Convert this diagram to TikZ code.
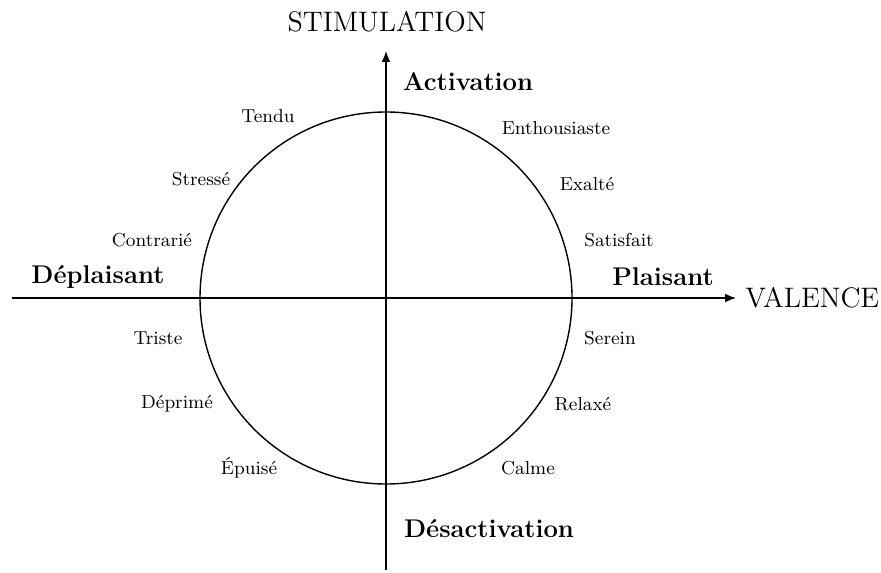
\documentclass[tikz,border=0pt]{standalone}
\usetikzlibrary{arrows.meta}
\begin{document}
\begin{tikzpicture}[x=0.5pt,y=-0.5pt,
  emo/.style={font=\fontsize{9.4}{11}\selectfont, inner sep=0pt},
  pole/.style={font=\fontsize{12.8}{15}\selectfont\bfseries, inner sep=0pt},
  axname/.style={font=\fontsize{14.1}{16}\selectfont, inner sep=0pt},
  axis/.style={line width=0.7pt, -{Latex[length=5.5pt,width=4.4pt]}}]
\useasboundingbox (0,0) rectangle (881,572);
\coordinate (O) at (386,298);
\coordinate (L) at (12,298);
\coordinate (R) at (736,298);
\coordinate (B) at (386,570);
\coordinate (T) at (386,51);
\draw[line width=0.7pt] (O) circle [radius=93pt];
\draw[axis] (L) -- (R);
\draw[axis] (B) -- (T);
\node[axname] (stim) at (387,22) {STIMULATION};
\node[axname, anchor=west] (val) at (745,298) {VALENCE};
\node[pole] (act) at (468,82) {Activation};
\node[pole] (desact) at (489,529) {Désactivation};
\node[pole] (depl) at (98,277) {Déplaisant};
\node[pole] (plai) at (663,277) {Plaisant};
\node[emo] (tendu) at (268,116) {Tendu};
\node[emo] (stresse) at (201,179) {Stressé};
\node[emo] (contrarie) at (152,240) {Contrarié};
\node[emo] (triste) at (158,338) {Triste};
\node[emo] (deprime) at (177,404) {Déprimé};
\node[emo] (epuise) at (249,468) {Épuisé};
\node[emo] (enth) at (556,128) {Enthousiaste};
\node[emo] (exalte) at (587,184) {Exalté};
\node[emo] (satis) at (619,240) {Satisfait};
\node[emo] (serein) at (610,338) {Serein};
\node[emo] (relaxe) at (583,404) {Relaxé};
\node[emo] (calme) at (528,468) {Calme};
\end{tikzpicture}
\end{document}
